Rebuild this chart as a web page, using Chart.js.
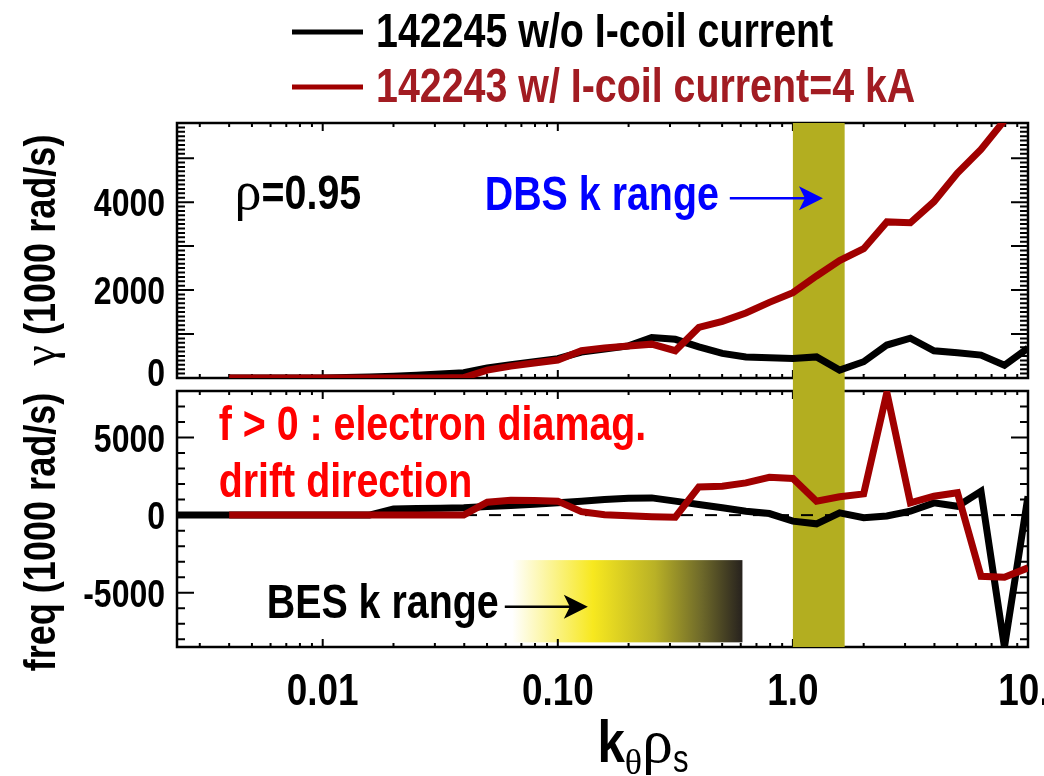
<!DOCTYPE html>
<html>
<head>
<meta charset="utf-8">
<script src="https://cdn.jsdelivr.net/npm/chart.js@4.4.1/dist/chart.umd.min.js"></script>
<style>
  html, body { margin: 0; padding: 0; background: #fff; }
  #wrap { position: relative; width: 1044px; height: 776px; overflow: hidden; }
  #gammaChart { position: absolute; left: 0; top: 0; }
  #freqChart { position: absolute; left: 0; top: 388px; }
</style>
</head>
<body>
<div id="wrap">
  <canvas id="gammaChart" width="1044" height="388"></canvas>
  <canvas id="freqChart" width="1044" height="388"></canvas>
</div>
<script>
// k_theta * rho_s grid (log spaced)
const kRho = [0.0020, 0.0025, 0.0032, 0.0040, 0.0050, 0.0063, 0.0079, 0.0100, 0.0126, 0.0158,
              0.0200, 0.0251, 0.0316, 0.0398, 0.0501, 0.0631, 0.0794, 0.100, 0.126, 0.158,
              0.200, 0.251, 0.316, 0.398, 0.501, 0.631, 0.794, 1.00, 1.26, 1.58,
              2.00, 2.51, 3.16, 3.98, 5.01, 6.31, 7.94, 10.0];

// growth rate gamma (1000 rad/s)
const gammaNoCoil = [null, null, null, 0, 0, 0, 0, 0, 10, 20,
                     40, 60, 90, 120, 230, 300, 370, 440, 590, 660,
                     730, 920, 880, 710, 560, 480, 460, 445, 480, 180,
                     370, 750, 905, 620, 575, 520, 290, 680];
const gammaWithCoil = [null, null, null, 0, 0, 0, 0, 0, 0, 0,
                       0, 0, 0, 10, 180, 270, 340, 410, 620, 680,
                       730, 770, 620, 1150, 1290, 1480, 1720, 1940, 2320, 2670,
                       2940, 3550, 3530, 4010, 4660, 5200, 5860, 6600];

// real frequency (1000 rad/s)
const freqNoCoil = [0, 0, 0, 0, 0, 0, 0, 0, 0, 0,
                    400, 420, 440, 470, 550, 620, 700, 800, 900, 1000,
                    1080, 1110, 900, 680, 470, 250, 100, -390, -560, 150,
                    -170, -60, 250, 790, 570, 1540, -8500, 1220];
const freqWithCoil = [null, null, null, 0, 0, 0, 0, 0, 0, 0,
                      0, 0, 0, 0, 830, 960, 950, 900, 220, 30,
                      -40, -100, -135, 1820, 1860, 2080, 2440, 2360, 900, 1180,
                      1370, 7900, 790, 1220, 1440, -3940, -4000, -3400];

const kTicks = [0.01, 0.1, 1, 10];
const kTickLabels = ['0.01', '0.10', '1.0', '10.'];
const gammaTicks = [0, 2000, 4000];
const freqTicks = [-5000, 0, 5000];
const dbsRange = [1.0, 1.66];
const besRange = [0.064, 0.61];

const DARK_RED = '#a00000';
const NARROW = 0.82;
const SANS = '"Liberation Sans", Arial, Helvetica, sans-serif';
const SERIF = '"Liberation Serif", "Times New Roman", serif';

const toPoints = (vals) => kRho.map((k, i) => ({x: k, y: vals[i]}));

// draw a run of text pieces (condensed bold sans, greek serif, sub/superscripts)
function textRun(ctx, parts, x, y, align) {
    const widths = parts.map(p => {
        ctx.font = p.font;
        return ctx.measureText(p.text).width * (p.sx || 1);
    });
    const total = widths.reduce((a, b) => a + b, 0);
    let cx = align === 'center' ? x - total / 2 : align === 'right' ? x - total : x;
    parts.forEach((p, i) => {
        ctx.save();
        ctx.font = p.font;
        ctx.fillStyle = p.color || '#000';
        ctx.textAlign = 'left';
        ctx.textBaseline = 'alphabetic';
        ctx.translate(cx, y + (p.dy || 0));
        ctx.scale(p.sx || 1, 1);
        ctx.fillText(p.text, 0, 0);
        ctx.restore();
        cx += widths[i];
    });
    return total;
}
const bold = (text, size, color, dy) => ({text, font: `bold ${size}px ${SANS}`, sx: NARROW, color, dy});
const plain = (text, size, color, dy) => ({text, font: `${size}px ${SANS}`, sx: NARROW, color, dy});
const greek = (text, size, color, dy) => ({text, font: `${size}px ${SERIF}`, sx: 1, color, dy});

function arrow(ctx, x1, x2, y, color) {
    ctx.save();
    ctx.strokeStyle = color;
    ctx.fillStyle = color;
    ctx.lineWidth = 2.5;
    ctx.beginPath();
    ctx.moveTo(x1, y);
    ctx.lineTo(x2 - 16, y);
    ctx.stroke();
    ctx.beginPath();
    ctx.moveTo(x2, y);
    ctx.lineTo(x2 - 24, y - 12);
    ctx.lineTo(x2 - 18, y);
    ctx.lineTo(x2 - 24, y + 12);
    ctx.closePath();
    ctx.fill();
    ctx.restore();
}

// IDL-like box with inward ticks, tick labels and the DBS band
const idlPanel = {
    id: 'idlPanel',
    beforeDatasetsDraw(chart, args, o) {
        const {ctx, chartArea: a, scales: {x, y}} = chart;
        ctx.save();
        ctx.strokeStyle = '#000';
        ctx.lineWidth = 2.5;
        ctx.strokeRect(a.left, a.top, a.right - a.left, a.bottom - a.top);
        ctx.lineWidth = 2;
        ctx.beginPath();
        const n0 = Math.ceil(y.min / o.yMinor), n1 = Math.floor(y.max / o.yMinor);
        for (let n = n0; n <= n1; n++) {
            const v = n * o.yMinor;
            const len = v % o.yMajor === 0 ? 17 : 8;
            const py = y.getPixelForValue(v);
            ctx.moveTo(a.left, py); ctx.lineTo(a.left + len, py);
            ctx.moveTo(a.right, py); ctx.lineTo(a.right - len, py);
        }
        for (let d = -3; d <= 1; d++) {
            for (let m = 1; m <= 9; m++) {
                const v = m * Math.pow(10, d);
                if (v < x.min || v > x.max) continue;
                const len = m === 1 ? 8 : 4;
                const px = x.getPixelForValue(v);
                ctx.moveTo(px, a.top); ctx.lineTo(px, a.top + len);
                ctx.moveTo(px, a.bottom); ctx.lineTo(px, a.bottom - len);
            }
        }
        ctx.stroke();

        // DBS k range band, runs through the gap between the panels
        const b0 = x.getPixelForValue(dbsRange[0]), b1 = x.getPixelForValue(dbsRange[1]);
        ctx.fillStyle = '#b3ae20';
        if (o.bandDown) ctx.fillRect(b0, a.top, b1 - b0, chart.height - a.top);
        else ctx.fillRect(b0, 0, b1 - b0, a.bottom);
        ctx.restore();
    },
    afterDatasetsDraw(chart, args, o) {
        const {ctx, chartArea: a, scales: {y}} = chart;
        o.yTicks.forEach(v => {
            const base = Math.min(y.getPixelForValue(v) + 14, a.bottom + 8);
            textRun(ctx, [bold(String(v), 39, '#000')], 165, base, 'right');
        });
    }
};

function lineSet(vals, color) {
    return {
        data: toPoints(vals),
        borderColor: color,
        borderWidth: 7,
        pointRadius: 0,
        tension: 0,
        fill: false
    };
}

function panelOptions(yMin, yMax, padding, panelOpts) {
    return {
        responsive: false,
        animation: false,
        devicePixelRatio: 1,
        events: [],
        layout: {padding},
        scales: {
            x: {type: 'logarithmic', min: 0.0024, max: 10, display: false},
            y: {type: 'linear', min: yMin, max: yMax, display: false}
        },
        plugins: {
            legend: {display: false},
            tooltip: {enabled: false},
            idlPanel: panelOpts
        }
    };
}

// ---- top panel: growth rate ----
new Chart(document.getElementById('gammaChart'), {
    type: 'line',
    data: {
        datasets: [lineSet(gammaWithCoil, DARK_RED), lineSet(gammaNoCoil, '#000')]
    },
    options: panelOptions(0, 5800, {left: 177, right: 16, top: 123, bottom: 10},
        {yMinor: 100, yMajor: 1000, yTicks: gammaTicks, bandDown: true}),
    plugins: [idlPanel, {
        id: 'gammaNotes',
        afterDraw(chart) {
            const {ctx, scales: {x, y}} = chart;
            // legend
            ctx.save();
            ctx.lineWidth = 5;
            ctx.strokeStyle = '#000';
            ctx.beginPath(); ctx.moveTo(292, 32); ctx.lineTo(363, 32); ctx.stroke();
            ctx.strokeStyle = DARK_RED;
            ctx.beginPath(); ctx.moveTo(292, 87); ctx.lineTo(363, 87); ctx.stroke();
            ctx.restore();
            textRun(ctx, [bold('142245 w/o I-coil current', 48, '#000')], 376, 47, 'left');
            textRun(ctx, [bold('142243 w/ I-coil current=4 kA', 48, '#a21c22')], 376, 102, 'left');

            textRun(ctx, [greek('\u03c1', 54, '#000'), bold('=0.95', 48, '#000')],
                x.getPixelForValue(0.00422), y.getPixelForValue(3843), 'left');
            textRun(ctx, [bold('DBS k range', 48, '#0000ff')],
                x.getPixelForValue(0.0489), y.getPixelForValue(3820), 'left');
            arrow(ctx, x.getPixelForValue(0.539), x.getPixelForValue(1.342), y.getPixelForValue(4086), '#0000ff');

            ctx.save();
            ctx.translate(55, 250);
            ctx.rotate(-Math.PI / 2);
            textRun(ctx, [greek('\u03b3', 46, '#000'), bold(' (1000 rad/s)', 44, '#000')], 0, 0, 'center');
            ctx.restore();
        }
    }]
});

// ---- bottom panel: real frequency ----
const zeroLine = {
    data: [{x: 0.0024, y: 0}, {x: 10, y: 0}],
    borderColor: '#000',
    borderWidth: 2,
    borderDash: [12, 12],
    pointRadius: 0,
    fill: false
};

new Chart(document.getElementById('freqChart'), {
    type: 'line',
    data: {
        datasets: [lineSet(freqWithCoil, DARK_RED), lineSet(freqNoCoil, '#000'), zeroLine]
    },
    options: panelOptions(-8500, 8000, {left: 177, right: 16, top: 3, bottom: 129},
        {yMinor: 1000, yMajor: 5000, yTicks: freqTicks, bandDown: false}),
    plugins: [{
        id: 'besBox',
        beforeDatasetsDraw(chart) {
            const {ctx, scales: {x, y}} = chart;
            const x0 = x.getPixelForValue(besRange[0]), x1 = x.getPixelForValue(besRange[1]);
            const y0 = y.getPixelForValue(-2900), y1 = y.getPixelForValue(-8200);
            const g = ctx.createLinearGradient(x0, 0, x1, 0);
            g.addColorStop(0, '#ffffff');
            g.addColorStop(0.35, '#f7e81f');
            g.addColorStop(0.62, '#b9b126');
            g.addColorStop(0.82, '#6f6a2a');
            g.addColorStop(1, '#27221e');
            ctx.save();
            ctx.fillStyle = g;
            ctx.fillRect(x0, y0, x1 - x0, y1 - y0);
            ctx.restore();
        }
    }, idlPanel, {
        id: 'freqNotes',
        afterDraw(chart) {
            const {ctx, chartArea: a, scales: {x, y}} = chart;
            textRun(ctx, [bold('f > 0 : electron diamag.', 48, '#ff0000')],
                x.getPixelForValue(0.00361), y.getPixelForValue(4840), 'left');
            textRun(ctx, [bold('drift direction', 48, '#ff0000')],
                x.getPixelForValue(0.00361), y.getPixelForValue(1167), 'left');
            textRun(ctx, [bold('BES k range', 48, '#000')],
                x.getPixelForValue(0.00578), y.getPixelForValue(-6632), 'left');
            arrow(ctx, x.getPixelForValue(0.0595), x.getPixelForValue(0.1342), y.getPixelForValue(-5904), '#000');

            kTicks.forEach((k, i) => {
                const px = Math.min(x.getPixelForValue(k), chart.width - 20);
                textRun(ctx, [bold(kTickLabels[i], 45, '#000')], px, a.bottom + 58, 'center');
            });

            // x title: k_theta rho_s
            textRun(ctx, [
                bold('k', 60, '#000'),
                greek('\u03b8', 36, '#000', 12),
                greek('\u03c1', 62, '#000'),
                plain('s', 38, '#000', 10)
            ], 643, 374, 'center');

            ctx.save();
            ctx.translate(55, 144);
            ctx.rotate(-Math.PI / 2);
            textRun(ctx, [bold('freq (1000 rad/s)', 44, '#000')], 0, 0, 'center');
            ctx.restore();
        }
    }]
});
</script>
</body>
</html>
